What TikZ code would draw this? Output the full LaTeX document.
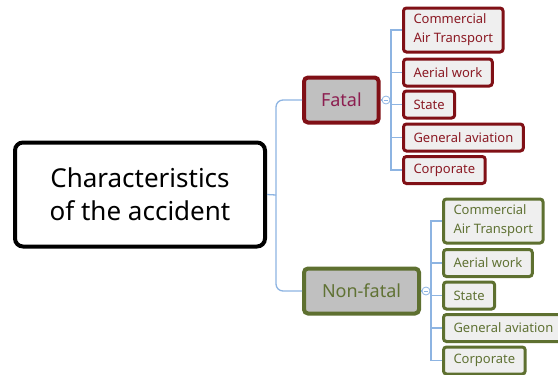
\documentclass[tikz,border=0pt]{standalone}
\usepackage{fontspec}
\setmainfont{Noto Sans}
\usepackage{tikz}
\definecolor{bloodred}{RGB}{128, 16, 22}
\definecolor{winetext}{RGB}{139, 26, 36}
\definecolor{plumtext}{RGB}{140, 30, 80}
\definecolor{olivedrab}{RGB}{94, 112, 48}
\definecolor{olivetext}{RGB}{96, 114, 52}
\definecolor{linkblue}{RGB}{141, 180, 226}
\definecolor{boxgray}{RGB}{192, 192, 192}
\definecolor{leafgray}{RGB}{239, 239, 239}
\tikzset{
  link/.style={draw=linkblue, line width=1.3pt},
  rootbox/.style={draw=black, line width=4pt, rounded corners=8pt, fill=white,
    align=center, minimum width=250pt, minimum height=104pt,
    font=\fontsize{26}{33}\selectfont},
  fatalbox/.style={draw=bloodred, line width=4pt, rounded corners=4pt, fill=boxgray,
    text=plumtext, anchor=west, minimum height=45pt, inner xsep=17pt,
    font=\fontsize{18}{22}\selectfont},
  safebox/.style={fatalbox, draw=olivedrab, text=olivetext},
  fatalleaf/.style={draw=bloodred, line width=3pt, rounded corners=3pt, fill=leafgray,
    text=winetext, anchor=west, align=left, minimum height=27pt, inner xsep=10pt,
    inner ysep=5pt, font=\fontsize{13}{19}\selectfont},
  safeleaf/.style={fatalleaf, draw=olivedrab, text=olivetext},
  fold/.style={circle, draw=linkblue, line width=0.8pt, fill=white, minimum size=8pt,
    inner sep=0pt,
    path picture={\draw[linkblue, line width=0.6pt]
      ([xshift=-2pt]path picture bounding box.center) --
      ([xshift=2pt]path picture bounding box.center);}}
}
\begin{document}
\begin{tikzpicture}[x=1pt, y=-1pt]
            % Frame to ensure alignment
            \useasboundingbox (0,0) rectangle (558,375);
            % Root
            \node[rootbox] (root) at (140,194.5) {Characteristics\\of the accident};
            \coordinate (rootbus) at (276,195);
            % First level
            \node[fatalbox] (fatal) at (302,100) {Fatal};
            \node[safebox, inner xsep=18pt] (nonfatal) at (302,291) {Non-fatal};
            \draw[link] (root.east) -- (rootbus);
            \draw[link, rounded corners=7pt] (fatal.west) -| (rootbus);
            \draw[link, rounded corners=7pt] (nonfatal.west) -| (rootbus);
            % Fatal leaves
            \node[fold] (fatalfold) at (386,100) {};
            \coordinate (fatalbus) at (391,100);
            \node[fatalleaf, inner ysep=6pt] (fcat) at (402,30) {Commercial\\Air Transport};
            \node[fatalleaf] (faer)   at (402,72.5)  {Aerial work};
            \node[fatalleaf] (fsta)   at (402,104.5) {State};
            \node[fatalleaf] (fgen)   at (402,137.5) {General aviation};
            \node[fatalleaf] (fcor)   at (402,170) {Corporate};
            \draw[link] (fatal.east) -- (fatalfold.west);
            \draw[link] (fatalfold.east) -- (fatalbus);
            \foreach \leaf in {fcat, faer, fsta, fgen, fcor}
              \draw[link] (\leaf.west) -| (fatalbus);
            % Non-fatal leaves
            \node[fold] (safefold) at (426,291) {};
            \coordinate (safebus) at (431,291);
            \node[safeleaf, inner ysep=6pt] (ncat) at (442,221) {Commercial\\Air Transport};
            \node[safeleaf] (naer)   at (442,263) {Aerial work};
            \node[safeleaf] (nsta)   at (442,295.5) {State};
            \node[safeleaf] (ngen)   at (442,328) {General aviation};
            \node[safeleaf] (ncor)   at (442,360.5) {Corporate};
            \draw[link] (nonfatal.east) -- (safefold.west);
            \draw[link] (safefold.east) -- (safebus);
            \foreach \leaf in {ncat, naer, nsta, ngen, ncor}
              \draw[link] (\leaf.west) -| (safebus);
\end{tikzpicture}
\end{document}
